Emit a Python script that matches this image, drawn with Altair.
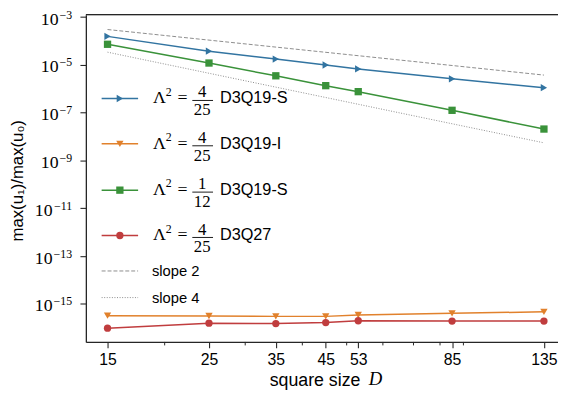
import altair as alt
import pandas as pd

# ---------------- data ----------------
D = [15, 25, 35, 45, 53, 85, 135]
d3q19s_4_25 = [1.50e-4, 3.61e-5, 1.69e-5, 9.5e-6, 6.5e-6, 2.52e-6, 1.07e-6]
d3q19i_4_25 = [3.1e-16, 3.0e-16, 2.9e-16, 2.9e-16, 3.3e-16, 3.9e-16, 4.5e-16]
d3q19s_1_12 = [7.0e-5, 1.15e-5, 3.36e-6, 1.30e-6, 7.3e-7, 1.21e-7, 1.99e-8]
d3q27_4_25 = [9.3e-17, 1.5e-16, 1.45e-16, 1.6e-16, 1.9e-16, 1.85e-16, 1.85e-16]

slope_D = [15, 135]
slope2 = [2.9e-4, 3.6e-6]
slope4 = [3.27e-5, 5.27e-9]

series_names = ["4/25 D3Q19-S", "4/25 D3Q19-I", "1/12 D3Q19-S", "4/25 D3Q27"]
series_num = ["4", "4", "1", "4"]
series_den = ["25", "25", "12", "25"]
series_code = ["D3Q19-S", "D3Q19-I", "D3Q19-S", "D3Q27"]
series_colors = ["#3274a1", "#e1812c", "#3a923a", "#c03d3e"]
series_shapes = ["triangle-right", "triangle-down", "square", "circle"]

x_ticks = [15, 25, 35, 45, 53, 85, 135]
x_minor = [20, 30, 40, 50, 60, 70, 80, 90]
y_ticks = [1e-3, 1e-5, 1e-7, 1e-9, 1e-11, 1e-13, 1e-15]
y_base = ["10"] * 7
y_exp = ["−3", "−5", "−7", "−9", "−11", "−13", "−15"]

# ---------------- tables ----------------
rows = []
for name, vals in zip(series_names, [d3q19s_4_25, d3q19i_4_25, d3q19s_1_12, d3q27_4_25]):
    for d, v in zip(D, vals):
        rows.append({"D": d, "val": v, "series": name})
df = pd.DataFrame(rows)

slope_rows = []
for name, vals in [("slope 2", slope2), ("slope 4", slope4)]:
    for d, v in zip(slope_D, vals):
        slope_rows.append({"D": d, "val": v, "series": name})
df_slope = pd.DataFrame(slope_rows)
df_minor = pd.DataFrame({"D": x_minor})
df_yt = pd.DataFrame({"val": y_ticks, "b": y_base, "e": y_exp})
one = pd.DataFrame({"k": [0]})

W, H = 479, 332
INK = "#262626"
SANS = "Liberation Sans"
SERIF = "Liberation Serif"

xscale = alt.Scale(type="log", domain=[13.45, 144.9], nice=False)
yscale = alt.Scale(type="log", domain=[2.47e-17, 1.209e-3], nice=False)

X = alt.X("D:Q", scale=xscale,
          axis=alt.Axis(values=x_ticks, format="d", title="square size", grid=False,
                        tickSize=6, tickColor=INK, tickWidth=1.1, domainColor=INK, domainWidth=1.3,
                        labelFont=SANS, labelFontSize=16, labelColor="black", labelPadding=4,
                        labelFlush=False, labelOverlap=False,
                        titleFont=SANS, titleFontSize=18, titleFontWeight="normal", titleColor="black",
                        titleX=186, titleAlign="left", titleY=44, titleBaseline="alphabetic"))
Y = alt.Y("val:Q", scale=yscale,
          axis=alt.Axis(values=y_ticks, labels=False, title="max(u₁)/max(u₀)", grid=False,
                        tickSize=6, tickColor=INK, tickWidth=1.1, domainColor=INK, domainWidth=1.3,
                        titleFont=SANS, titleFontSize=17, titleFontWeight="normal", titleColor="black",
                        titleX=-69, titleY=H / 2 + 2, titleAngle=-90, titleAlign="center",
                        titleBaseline="middle"))

color = alt.Color("series:N", scale=alt.Scale(domain=series_names, range=series_colors), legend=None)
shape = alt.Shape("series:N", scale=alt.Scale(domain=series_names, range=series_shapes), legend=None)

base = alt.Chart(df)
lines = base.mark_line(strokeWidth=1.5).encode(x=X, y=Y, color=color, detail="series:N")
points = base.mark_point(filled=True, size=55, opacity=1).encode(x=X, y=Y, color=color, shape=shape)

s2 = alt.Chart(df_slope).transform_filter("datum.series == 'slope 2'").mark_line(
    strokeDash=[4, 2], color="#8c8c8c", strokeWidth=1).encode(x=X, y=Y)
s4 = alt.Chart(df_slope).transform_filter("datum.series == 'slope 4'").mark_line(
    strokeDash=[1, 1.6], color="#8c8c8c", strokeWidth=1).encode(x=X, y=Y)

minor = alt.Chart(df_minor).mark_rule(color=INK, strokeWidth=1).encode(
    x=X, y=alt.value(H), y2=alt.value(H + 3.5))
top_spine = alt.Chart(one).mark_rule(color=INK, strokeWidth=1.3).encode(
    x=alt.value(0), x2=alt.value(W), y=alt.value(0))
x_title_D = alt.Chart(one).mark_text(text="D", font=SERIF, fontStyle="italic", fontSize=19,
                                      align="left", baseline="alphabetic", color="black").encode(
    x=alt.value(287), y=alt.value(H + 44))

# y tick labels: "10" with a raised exponent
yexp = alt.Chart(df_yt).mark_text(font=SERIF, fontSize=12, align="right", baseline="alphabetic",
                                  color="black", dy=2).encode(
    x=alt.value(-14), y=Y, text="e:N")
ybase = alt.Chart(df_yt).transform_calculate(
    tx="-15 - 12*(0.564 + 0.5*(length(datum.e) - 1))").mark_text(
    font=SERIF, fontSize=18, align="right", baseline="alphabetic", color="black", dy=8).encode(
    x=alt.X("tx:Q", scale=None), y=Y, text="b:N")

# ---------------- custom legend ----------------
leg = []
row_y = [85, 131, 178, 224]
for i in range(4):
    yc = row_y[i]
    c = series_colors[i]
    b = alt.Chart(one)
    leg.append(b.mark_rule(color=c, strokeWidth=1.5).encode(
        x=alt.value(16), x2=alt.value(53), y=alt.value(yc)))
    leg.append(b.mark_point(shape=series_shapes[i], filled=True, size=55, color=c, opacity=1).encode(
        x=alt.value(34.5), y=alt.value(yc)))
    leg.append(b.mark_text(text="Λ", font=SERIF, fontSize=18, align="left", baseline="alphabetic",
                           color="black").encode(x=alt.value(68), y=alt.value(yc + 5)))
    leg.append(b.mark_text(text="2", font=SERIF, fontSize=12, align="left", baseline="alphabetic",
                           color="black").encode(x=alt.value(81), y=alt.value(yc - 3)))
    leg.append(b.mark_text(text="=", font=SERIF, fontSize=18, align="left", baseline="alphabetic",
                           color="black").encode(x=alt.value(93), y=alt.value(yc + 5)))
    leg.append(b.mark_text(text=series_num[i], font=SERIF, fontSize=17, align="center",
                           baseline="alphabetic", color="black").encode(x=alt.value(118), y=alt.value(yc - 1)))
    leg.append(b.mark_rule(color="black", strokeWidth=0.9).encode(
        x=alt.value(108), x2=alt.value(129), y=alt.value(yc + 2)))
    leg.append(b.mark_text(text=series_den[i], font=SERIF, fontSize=17, align="center",
                           baseline="alphabetic", color="black").encode(x=alt.value(118), y=alt.value(yc + 17)))
    leg.append(b.mark_text(text=series_code[i], font=SANS, fontSize=16.5, align="left",
                           baseline="alphabetic", color="black").encode(x=alt.value(136), y=alt.value(yc + 5)))

for yc, txt, dash in [(260, "slope 2", [4, 2]), (287, "slope 4", [1, 1.6])]:
    b = alt.Chart(one)
    leg.append(b.mark_rule(color="#8c8c8c", strokeWidth=1, strokeDash=dash).encode(
        x=alt.value(16), x2=alt.value(53), y=alt.value(yc)))
    leg.append(b.mark_text(text=txt, font=SANS, fontSize=15, align="left", baseline="middle",
                           color="black").encode(x=alt.value(67), y=alt.value(yc)))

chart = alt.layer(lines, s2, s4, points, minor, top_spine, x_title_D, yexp, ybase, *leg).properties(
    width=W, height=H,
    padding={"left": 79, "top": 4, "right": 0, "bottom": 49},
    autosize=alt.AutoSizeParams(type="none"),
).configure_view(stroke=None).configure(background="white")

chart.save("out.html", embed_options={"renderer": "svg", "actions": False})
